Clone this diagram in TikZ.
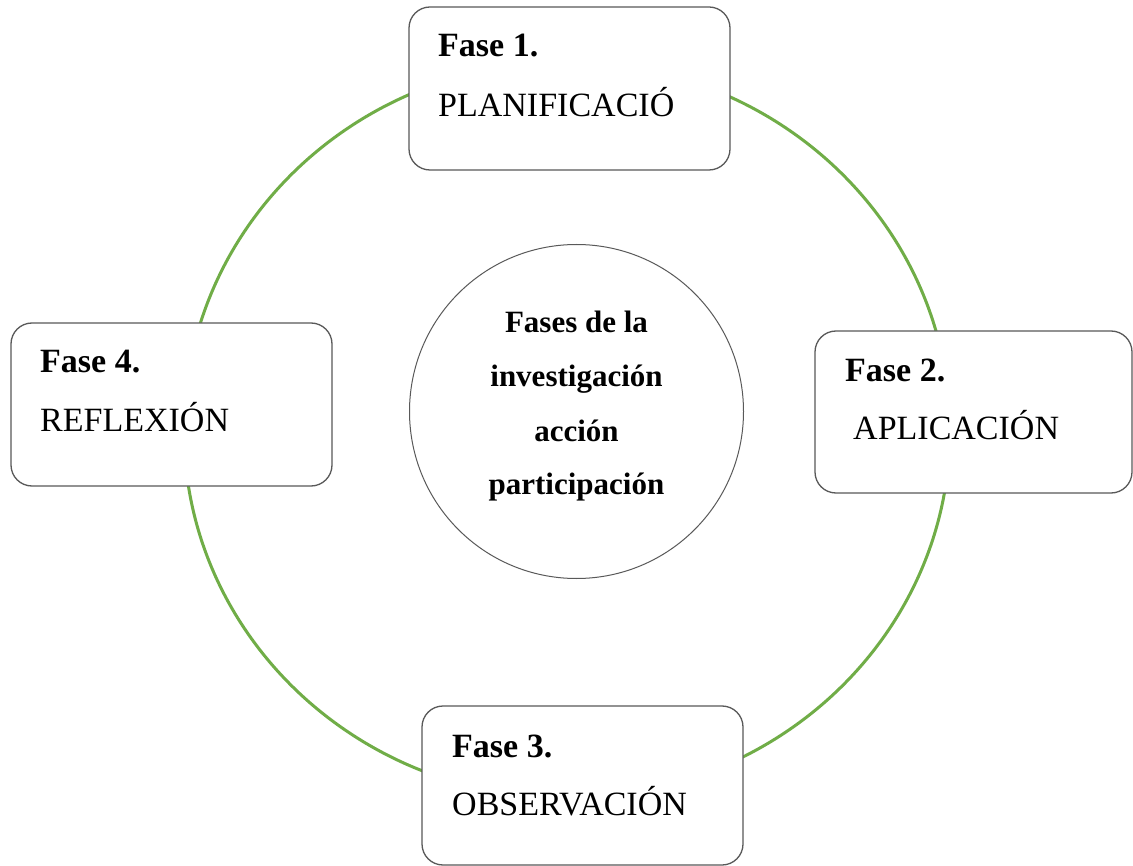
\documentclass[tikz,border=0pt]{standalone}
\usepackage{fontspec}
\setmainfont{Liberation Serif}
\definecolor{ringgreen}{HTML}{70AD47}
\definecolor{boxline}{HTML}{595959}
\begin{document}
\begin{tikzpicture}[x=1pt,y=-1pt,
  phasebox/.style={draw=boxline,line width=1.3pt,fill=white,rounded corners=21pt,inner sep=0pt,rectangle},
  phasetitle/.style={anchor=base west,inner sep=0pt,font=\fontsize{34}{40}\selectfont\bfseries},
  phasename/.style={anchor=base west,inner sep=0pt,font=\fontsize{34}{40}\selectfont},
  centertext/.style={anchor=base,inner sep=0pt,font=\fontsize{31}{36}\selectfont\bfseries}]
\useasboundingbox[fill=white] (0,0) rectangle (1133,866);
% green ring
\draw[ringgreen,line width=3pt] (567,430) ellipse [x radius=383pt, y radius=368pt];
% boxes
\node[phasebox,minimum width=321pt,minimum height=163pt] (b1) at (569.5,88.5) {};
\node[phasebox,minimum width=317pt,minimum height=162pt] (b2) at (973.5,412) {};
\node[phasebox,minimum width=321pt,minimum height=159pt] (b3) at (582.5,785.5) {};
\node[phasebox,minimum width=321pt,minimum height=163pt] (b4) at (171.5,404.5) {};
% center circle
\node[circle,draw=boxline,line width=1pt,fill=white,minimum size=334pt,inner sep=0pt] (c) at (576.5,411.5) {};
% texts
\node[phasetitle] (t1) at (438,57) {Fase 1.};
\node[phasename] (n1) at (438,117) {PLANIFICACIÓ};
\node[phasetitle] (t2) at (845,382) {Fase 2.};
\node[phasename] (n2) at (853,440) {APLICACIÓN};
\node[phasetitle] (t3) at (452,757) {Fase 3.};
\node[phasename] (n3) at (452,815) {OBSERVACIÓN};
\node[phasetitle] (t4) at (40,373) {Fase 4.};
\node[phasename] (n4) at (40,432) {REFLEXIÓN};
\node[centertext] (ca) at (576.5,333) {Fases de la};
\node[centertext] (cb) at (576.5,387) {investigación};
\node[centertext] (cc) at (576.5,442) {acción};
\node[centertext] (cd) at (576.5,494) {participación};
\end{tikzpicture}
\end{document}
